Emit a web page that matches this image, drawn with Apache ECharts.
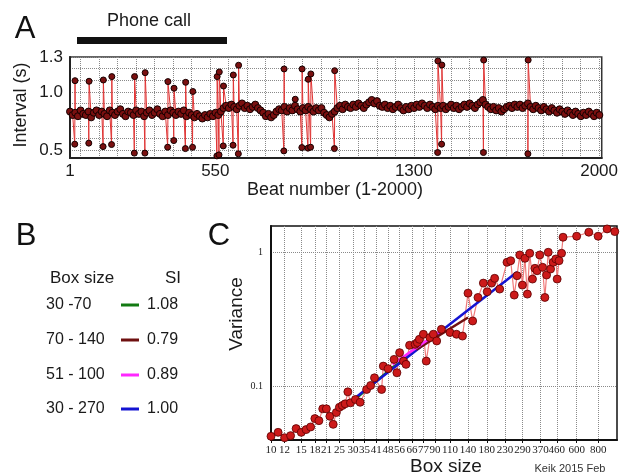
<!DOCTYPE html>
<html><head><meta charset="utf-8">
<script src="https://cdn.jsdelivr.net/npm/echarts@6/dist/echarts.min.js"></script>
<style>html,body{margin:0;padding:0;background:#fff}#c{width:621px;height:476px}</style>
</head><body><div id="c"></div>
<script>
// ---------- Panel A : RR intervals ----------
const baselineStartBeat = 1;
const baselineStep = 10;
const baselineIntervals = [
 0.83,0.80,0.82,0.79,0.84,0.81,0.80,0.83,0.78,0.82,
 0.84,0.80,0.83,0.81,0.79,0.84,0.82,0.80,0.83,0.85,
 0.81,0.79,0.83,0.82,0.80,0.84,0.81,0.83,0.79,0.82,
 0.84,0.80,0.82,0.85,0.81,0.79,0.83,0.80,0.84,0.82,
 0.80,0.83,0.81,0.84,0.79,0.82,0.80,0.78,0.81,0.79,
 0.77,0.80,0.78,0.81,0.79,0.82,0.80,0.83,0.86,0.88,
 0.86,0.89,0.87,0.85,0.88,0.90,0.86,0.88,0.85,0.87,
 0.89,0.86,0.84,0.82,0.79,0.81,0.78,0.80,0.83,0.85,
 0.84,0.87,0.83,0.86,0.84,0.88,0.85,0.83,0.86,0.84,
 0.87,0.85,0.83,0.86,0.84,0.86,0.82,0.80,0.78,0.81,
 0.83,0.86,0.88,0.85,0.89,0.87,0.86,0.89,0.87,0.90,
 0.88,0.86,0.89,0.91,0.93,0.90,0.92,0.88,0.87,0.89,
 0.86,0.88,0.85,0.87,0.89,0.86,0.84,0.87,0.85,0.88,
 0.86,0.89,0.87,0.90,0.88,0.86,0.89,0.87,0.85,0.88,
 0.86,0.88,0.85,0.87,0.89,0.86,0.88,0.85,0.87,0.89,
 0.87,0.90,0.88,0.86,0.89,0.91,0.93,0.89,0.87,0.85,
 0.87,0.84,0.86,0.83,0.85,0.87,0.88,0.86,0.89,0.87,
 0.89,0.86,0.88,0.90,0.87,0.85,0.88,0.86,0.84,0.87,
 0.85,0.83,0.86,0.84,0.82,0.85,0.83,0.81,0.84,0.82,
 0.80,0.83,0.81,0.79,0.82,0.80,0.83,0.81,0.79,0.82,0.80
];
const ectopicBeats   = [19,72,126,158,244,284,370,393,437,464,556,564,580,617,637,809,877,900,910,1000,1390,1405,1563,1731];
const shortIntervals = [0.549,0.558,0.528,0.546,0.472,0.472,0.523,0.58,0.511,0.522,0.448,0.457,0.534,0.54,0.466,0.491,0.52,0.515,0.523,0.511,0.477,0.549,0.477,0.466];
const longIntervals  = [1.096,1.091,1.102,1.131,1.131,1.165,1.088,1.031,1.082,1.003,1.131,1.171,1.05,1.145,1.229,1.197,1.197,1.108,1.154,1.182,1.266,1.231,1.274,1.274];
const isolatedBeats = [852];
const isolatedIntervals = [0.936];
const beatTickLabels = [1, 550, 1300, 2000];
const intervalTickLabels = [0.5, 1.0, 1.3];

// ---------- Panel C : variance vs box size ----------
const boxSizes = [10,11,12,13,14,15,16,17,18,19,20,21,22,23,24,25,26,27,28,29,31,33,36,38,40,44,45,48,52,54,56,59,61,64,69,71,73,77,80,84,88,92,98,110,120,130,140,149,160,172,181,192,200,214,236,248,260,270,280,290,300,310,320,332,343,353,366,380,392,401,410,423,438,454,462,474,490,500,600,706,800,902,1000];
const variances = [0.0426,0.0456,0.0416,0.0431,0.0486,0.0456,0.0478,0.0500,0.0577,0.0557,0.0682,0.0682,0.060,0.0523,0.064,0.070,0.0722,0.0743,0.0912,0.0756,0.080,0.0763,0.095,0.1017,0.116,0.095,0.1417,0.1355,0.159,0.1265,0.1784,0.1545,0.146,0.2023,0.2057,0.212,0.2243,0.2445,0.1545,0.2309,0.2445,0.218,0.266,0.252,0.2445,0.237,0.494,0.307,0.459,0.587,0.506,0.587,0.637,0.530,0.838,0.861,0.478,0.666,0.950,0.567,0.897,0.486,0.978,0.629,0.756,0.725,0.950,0.769,0.459,0.674,0.995,0.747,0.838,0.887,0.629,0.861,0.978,1.287,1.310,1.403,1.310,1.484,1.418];
const boxTickLabels = [10,12,15,18,21,25,30,35,41,48,56,66,77,90,110,140,180,230,290,370,460,600,800];
const varianceTickLabels = [0.1, 1];
// fitted lines: [start box, end box], [start variance, end variance]
const fitGreenBox = [30, 70],   fitGreenVar = [0.078, 0.195];
const fitBlueBox = [30, 270],   fitBlueVar = [0.080, 0.71];
const fitBrownBox = [70, 140],  fitBrownVar = [0.188, 0.326];
const fitMagentaBox = [51, 100], fitMagentaVar = [0.146, 0.266];
// Panel B table
const tableRanges = ['30 -70', '70 - 140', '51 - 100', '30 - 270'];
const tableSI = ['1.08', '0.79', '0.89', '1.00'];
const tableColors = ['#127a12', '#6e1010', '#ff28ff', '#1414d2'];

// ---------- build ----------
const seriesA = [];
baselineIntervals.forEach((v, i) => seriesA.push({ value: [baselineStartBeat + i * baselineStep, v], symbolSize: 7 }));
ectopicBeats.forEach((b, i) => {
  seriesA.push({ value: [b, shortIntervals[i]], symbolSize: 6 });
  seriesA.push({ value: [b + 1, longIntervals[i]], symbolSize: 6 });
});
isolatedBeats.forEach((b, i) => seriesA.push({ value: [b, isolatedIntervals[i]], symbolSize: 6 }));
seriesA.sort((a, b) => a.value[0] - b.value[0]);

const seriesC = boxSizes.map((b, i) => [b, variances[i]]);
const pair = (bx, vr) => [[bx[0], vr[0]], [bx[1], vr[1]]];

const beatGrid = []; for (let b = 40; b <= 2000; b += 70) beatGrid.push(b);
const intGrid = []; for (let k = 5; k <= 13; k++) intGrid.push(k / 10);

const SANS = '"Liberation Sans", Arial, sans-serif';
const SERIF = '"Liberation Serif", "Times New Roman", serif';
const dotted = { show: true, lineStyle: { type: 'dotted', color: '#8a8a8a', width: 1 } };

const chart = echarts.init(document.getElementById('c'), null, { renderer: 'canvas' });
const graphics = [
  { type: 'text', style: { x: 25, y: 29, text: 'A', font: '31px ' + SANS, fill: '#111', textAlign: 'center', textVerticalAlign: 'middle' } },
  { type: 'text', style: { x: 149, y: 21, text: 'Phone call', font: '18px ' + SANS, fill: '#1a1a1a', textAlign: 'center', textVerticalAlign: 'middle' } },
  { type: 'rect', shape: { x: 77, y: 37, width: 150, height: 7 }, style: { fill: '#111' } },
  { type: 'text', rotation: Math.PI / 2, x: 21, y: 105, style: { x: 0, y: 0, text: 'Interval (s)', font: '18px ' + SANS, fill: '#1a1a1a', textAlign: 'center', textVerticalAlign: 'middle' } },
  { type: 'text', style: { x: 335, y: 190, text: 'Beat number (1-2000)', font: '18px ' + SANS, fill: '#1a1a1a', textAlign: 'center', textVerticalAlign: 'middle' } },
  { type: 'text', style: { x: 26, y: 236, text: 'B', font: '31px ' + SANS, fill: '#111', textAlign: 'center', textVerticalAlign: 'middle' } },
  { type: 'text', style: { x: 219, y: 236, text: 'C', font: '31px ' + SANS, fill: '#111', textAlign: 'center', textVerticalAlign: 'middle' } },
  { type: 'text', style: { x: 50, y: 278, text: 'Box size', font: '17px ' + SANS, fill: '#1a1a1a', textAlign: 'left', textVerticalAlign: 'middle' } },
  { type: 'text', style: { x: 173, y: 278, text: 'SI', font: '17px ' + SANS, fill: '#1a1a1a', textAlign: 'center', textVerticalAlign: 'middle' } },
  { type: 'text', rotation: Math.PI / 2, x: 237, y: 314, style: { x: 0, y: 0, text: 'Variance', font: '19px ' + SANS, fill: '#1a1a1a', textAlign: 'center', textVerticalAlign: 'middle' } },
  { type: 'text', style: { x: 446, y: 467, text: 'Box size', font: '19px ' + SANS, fill: '#1a1a1a', textAlign: 'center', textVerticalAlign: 'middle' } },
  { type: 'text', style: { x: 570, y: 469, text: 'Keik 2015 Feb', font: '11px ' + SANS, fill: '#333', textAlign: 'center', textVerticalAlign: 'middle' } }
];
const rowY = [305, 340, 375, 409];
tableRanges.forEach((r, i) => {
  graphics.push({ type: 'text', style: { x: 46, y: rowY[i], text: r, font: '16px ' + SANS, fill: '#1a1a1a', textAlign: 'left', textVerticalAlign: 'middle' } });
  graphics.push({ type: 'line', shape: { x1: 121, y1: rowY[i], x2: 139, y2: rowY[i] }, style: { stroke: tableColors[i], lineWidth: 3 } });
  graphics.push({ type: 'text', style: { x: 147, y: rowY[i], text: tableSI[i], font: '16px ' + SANS, fill: '#1a1a1a', textAlign: 'left', textVerticalAlign: 'middle' } });
});

chart.setOption({
  animation: false,
  backgroundColor: '#fff',
  grid: [
    { left: 70, top: 57, width: 535, height: 101, show: true, borderColor: '#333', borderWidth: 1.5, containLabel: false },
    { left: 271, top: 226, width: 346, height: 214, show: true, borderColor: '#111', borderWidth: 1.5, containLabel: false }
  ],
  xAxis: [
    { type: 'value', gridIndex: 0, min: 1, max: 2010,
      axisLine: { show: true, lineStyle: { color: '#222', width: 2 } },
      axisTick: { show: false, customValues: beatGrid },
      splitLine: dotted,
      axisLabel: { customValues: beatTickLabels, formatter: v => String(v), fontFamily: SANS, fontSize: 17, color: '#1a1a1a', margin: 5 } },
    { type: 'log', gridIndex: 1, logBase: 10, min: 10, max: 1030,
      axisLine: { show: true, lineStyle: { color: '#111', width: 2 } },
      axisTick: { show: true, length: 3, inside: false, customValues: boxTickLabels, lineStyle: { color: '#111' } },
      splitLine: dotted,
      axisLabel: { customValues: boxTickLabels, formatter: v => String(v), fontFamily: SERIF, fontSize: 11, color: '#222', margin: 5, hideOverlap: false } }
  ],
  yAxis: [
    { type: 'value', gridIndex: 0, min: 0.43, max: 1.3,
      axisLine: { show: true, lineStyle: { color: '#222', width: 2 } },
      axisTick: { show: false, customValues: intGrid },
      splitLine: dotted,
      axisLabel: { customValues: intervalTickLabels, formatter: v => v.toFixed(1), fontFamily: SANS, fontSize: 17, color: '#1a1a1a', margin: 7 } },
    { type: 'log', gridIndex: 1, logBase: 10, min: 0.04, max: 1.56,
      axisLine: { show: true, lineStyle: { color: '#111', width: 2 } },
      axisTick: { show: false, customValues: varianceTickLabels },
      splitLine: dotted,
      axisLabel: { customValues: varianceTickLabels, formatter: v => String(v), fontFamily: SERIF, fontSize: 10, color: '#222', margin: 8 } }
  ],
  series: [
    { type: 'line', xAxisIndex: 0, yAxisIndex: 0, data: seriesA, showAllSymbol: true,
      symbol: 'circle',
      itemStyle: { color: '#7a1010', borderColor: '#150000', borderWidth: 1 },
      lineStyle: { color: '#e03535', width: 1 } },
    { type: 'line', xAxisIndex: 1, yAxisIndex: 1, data: seriesC, showAllSymbol: true,
      symbol: 'circle', symbolSize: 8,
      itemStyle: { color: '#cc1a1a', borderColor: '#5a0000', borderWidth: 0.8 },
      lineStyle: { color: '#f07a7a', width: 1.2 } },
    { type: 'line', xAxisIndex: 1, yAxisIndex: 1, data: pair(fitGreenBox, fitGreenVar), symbol: 'none', lineStyle: { color: tableColors[0], width: 2.5 } },
    { type: 'line', xAxisIndex: 1, yAxisIndex: 1, data: pair(fitBlueBox, fitBlueVar), symbol: 'none', lineStyle: { color: tableColors[3], width: 2.5 } },
    { type: 'line', xAxisIndex: 1, yAxisIndex: 1, data: pair(fitBrownBox, fitBrownVar), symbol: 'none', lineStyle: { color: tableColors[1], width: 2.5 } },
    { type: 'line', xAxisIndex: 1, yAxisIndex: 1, data: pair(fitMagentaBox, fitMagentaVar), symbol: 'none', lineStyle: { color: tableColors[2], width: 2.5 } }
  ],
  graphic: graphics
});
</script></body></html>
